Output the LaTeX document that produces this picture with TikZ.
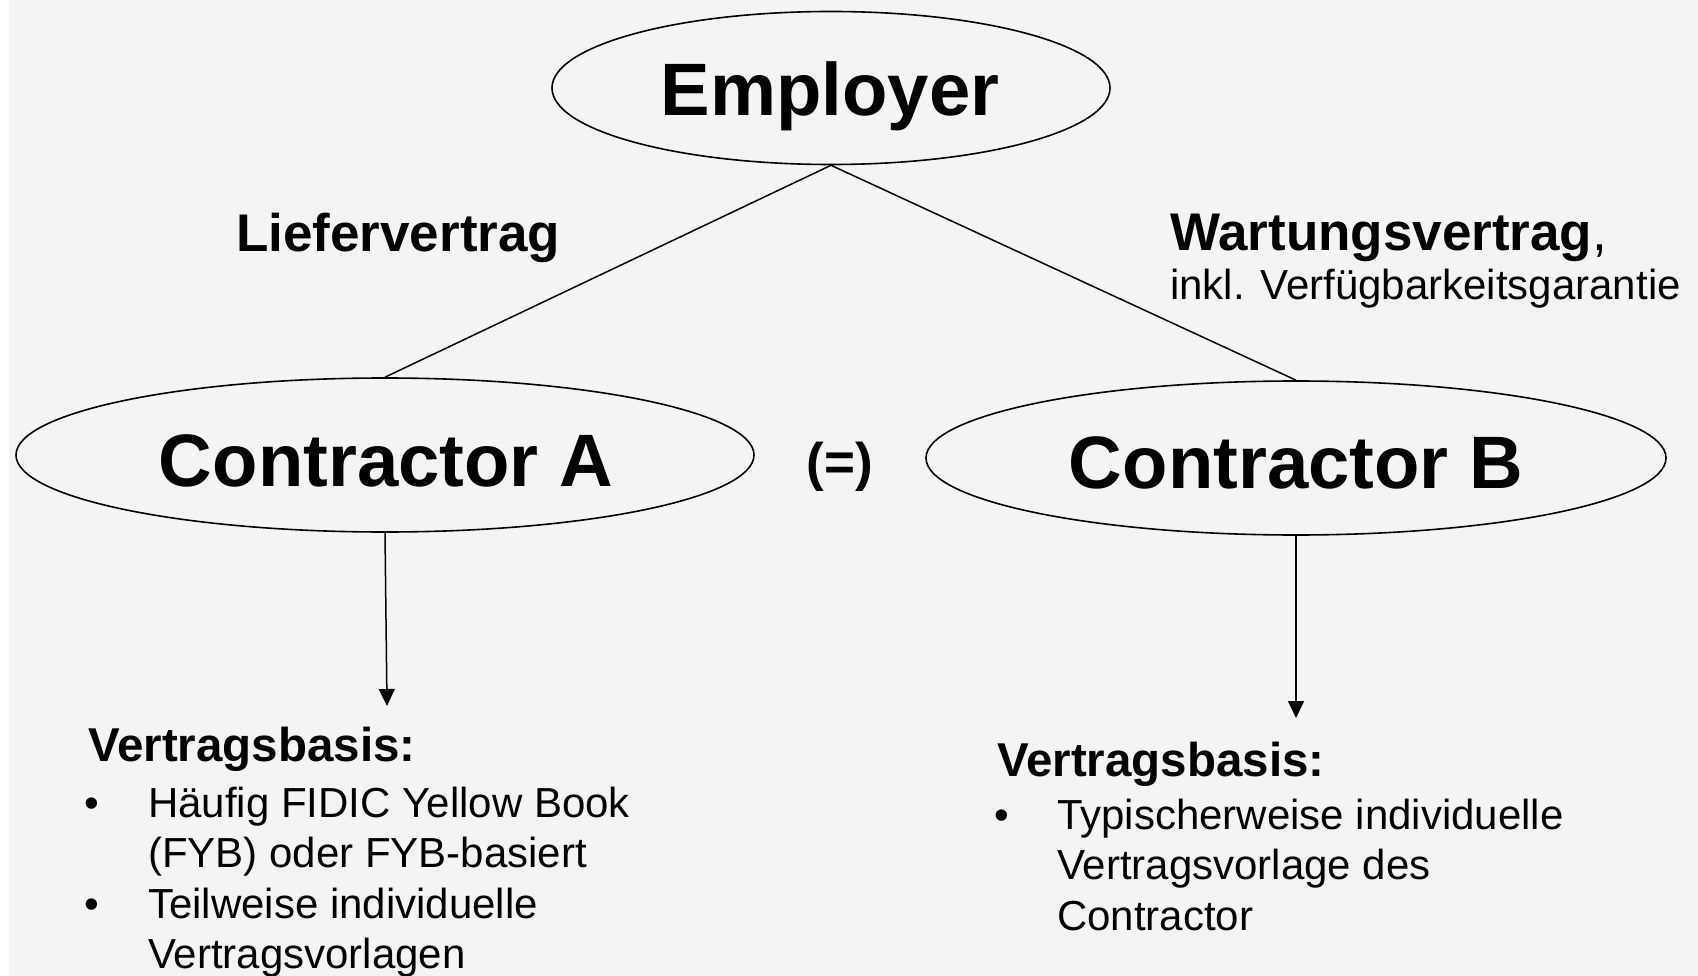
\documentclass[tikz,border=0pt]{standalone}
\usepackage{fontspec}
\setmainfont{Liberation Sans}
\usetikzlibrary{shapes.geometric,arrows.meta}
\definecolor{bgc}{HTML}{F3F5F4}
\tikzset{
  ell/.style={draw=black,line width=1.6pt,ellipse,inner sep=0pt},
  big/.style={inner sep=0pt,anchor=base,font=\fontsize{74.3}{90}\selectfont\bfseries},
  lab/.style={inner sep=0pt,anchor=base west,font=\fontsize{53}{64}\selectfont\bfseries},
  txt/.style={inner sep=0pt,anchor=base west,font=\fontsize{42}{50}\selectfont},
  head/.style={inner sep=0pt,anchor=base west,font=\fontsize{47.5}{56}\selectfont\bfseries},
  conn/.style={line width=1.5pt},
  arr/.style={line width=1.5pt,-{Triangle[width=16pt,length=17pt]}}
}
\begin{document}
\begin{tikzpicture}[x=1pt,y=-1pt]
\useasboundingbox (0,0) rectangle (1698,976);
\fill[white] (0,0) rectangle (9,976);
\fill[bgc] (9,0) rectangle (1698,976);
% ellipses
\node[ell,minimum width=558pt,minimum height=153pt] (emp) at (831,88) {};
\node[ell,minimum width=738pt,minimum height=154pt] (ca) at (385,455) {};
\node[ell,minimum width=740pt,minimum height=154pt] (cb) at (1296,458) {};
\node[big] (emptxt) at (830,116) {Employer};
\node[big] (catxt) at (386,486) {Contractor A};
\node[big] (cbtxt) at (1296,488) {Contractor B};
\node[inner sep=0pt,anchor=base,font=\fontsize{53}{64}\selectfont\bfseries] (eq) at (840,480) {(=)};
% connectors
\draw[conn] (emp.south) -- (ca.north);
\draw[conn] (emp.south) -- (cb.north);
\coordinate (ta) at (387,706);
\coordinate (tb) at (1296,718);
\draw[arr] (ca.south) -- (ta);
\draw[arr] (cb.south) -- (tb);
% labels
\node[lab] (lief) at (236,252) {Liefervertrag};
\node[lab] (wart) at (1170,251) {Wartungsvertrag\mdseries,};
\node[txt] (inkl) at (1170,300) {inkl. Verfügbarkeitsgarantie};
% left block
\node[head] (lh) at (88,761) {Vertragsbasis:};
\node[txt] (lb1) at (84,817) {•};
\node[txt] (l1) at (148,817) {Häufig FIDIC Yellow Book};
\node[txt] (l2) at (148,867) {(FYB) oder FYB-basiert};
\node[txt] (lb2) at (84,918) {•};
\node[txt] (l3) at (148,918) {Teilweise individuelle};
\node[txt] (l4) at (148,968) {Vertragsvorlagen};
% right block
\node[head] (rh) at (997,776) {Vertragsbasis:};
\node[txt] (rb1) at (994,829) {•};
\node[txt] (r1) at (1057,829) {Typischerweise individuelle};
\node[txt] (r2) at (1057,879) {Vertragsvorlage des};
\node[txt] (r3) at (1057,930) {Contractor};
\end{tikzpicture}
\end{document}
